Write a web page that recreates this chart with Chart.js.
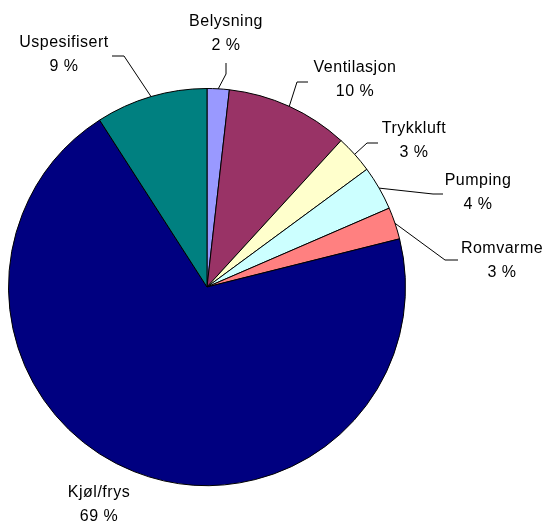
<!DOCTYPE html>
<html lang="no">
<head>
  <meta charset="UTF-8" />
  <title>Energibruk</title>
  <script src="https://cdn.jsdelivr.net/npm/chart.js"></script>
  <style>
    body { margin: 0; background: #fff; }
    canvas { display: block; }
  </style>
</head>
<body>
  <canvas id="pie" width="543" height="524"></canvas>

  <script>
    const categories = ["Belysning", "Ventilasjon", "Trykkluft", "Pumping", "Romvarme", "Kjøl/frys", "Uspesifisert"];
    const shares = [1.8, 10.0, 3.1, 3.6, 2.6, 69.8, 9.1];
    const pctLabels = ["2 %", "10 %", "3 %", "4 %", "3 %", "69 %", "9 %"];
    const colors = ["#9999FF", "#993366", "#FFFFCC", "#CCFFFF", "#FF8080", "#000080", "#008080"];

    // where each label sits, and the bend/end of its leader line
    const labelLayout = [
      { x: 226, y: 22, bend: [226, 74], end: [226, 63] },
      { x: 355, y: 68, bend: [297, 82], end: [308, 82] },
      { x: 414, y: 129, bend: [367, 143], end: [378, 143] },
      { x: 478, y: 181, bend: [433, 194], end: [443, 194] },
      { x: 502, y: 249, bend: [445, 260], end: [458, 260] },
      { x: 99, y: 493, bend: null, end: null },
      { x: 64, y: 43, bend: [124, 56], end: [112, 56] }
    ];

    const pieLabels = {
      id: "pieLabels",
      afterDraw(chart) {
        const ctx = chart.ctx;
        const arcs = chart.getDatasetMeta(0).data;
        ctx.save();
        ctx.font = "16px 'Liberation Sans', Arial, sans-serif";
        ctx.letterSpacing = "0.5px";
        ctx.fillStyle = "#000";
        ctx.textAlign = "center";
        ctx.textBaseline = "middle";
        ctx.strokeStyle = "#000";
        ctx.lineWidth = 1;
        arcs.forEach((arc, i) => {
          const lay = labelLayout[i];
          ctx.fillText(categories[i], lay.x, lay.y);
          ctx.fillText(pctLabels[i], lay.x, lay.y + 24);
          if (lay.bend) {
            const p = arc.getProps(["x", "y", "startAngle", "endAngle", "outerRadius"], true);
            const mid = (p.startAngle + p.endAngle) / 2;
            ctx.beginPath();
            ctx.moveTo(p.x + Math.cos(mid) * p.outerRadius, p.y + Math.sin(mid) * p.outerRadius);
            ctx.lineTo(lay.bend[0], lay.bend[1]);
            ctx.lineTo(lay.end[0], lay.end[1]);
            ctx.stroke();
          }
        });
        ctx.restore();
      }
    };

    new Chart(document.getElementById("pie"), {
      type: "pie",
      data: {
        labels: categories,
        datasets: [{
          data: shares,
          backgroundColor: colors,
          borderColor: "#000",
          borderWidth: 1
        }]
      },
      options: {
        responsive: false,
        animation: false,
        layout: { padding: { left: 8, right: 137, top: 88, bottom: 38 } },
        plugins: {
          legend: { display: false },
          tooltip: { enabled: false }
        }
      },
      plugins: [pieLabels]
    });
  </script>
</body>
</html>
